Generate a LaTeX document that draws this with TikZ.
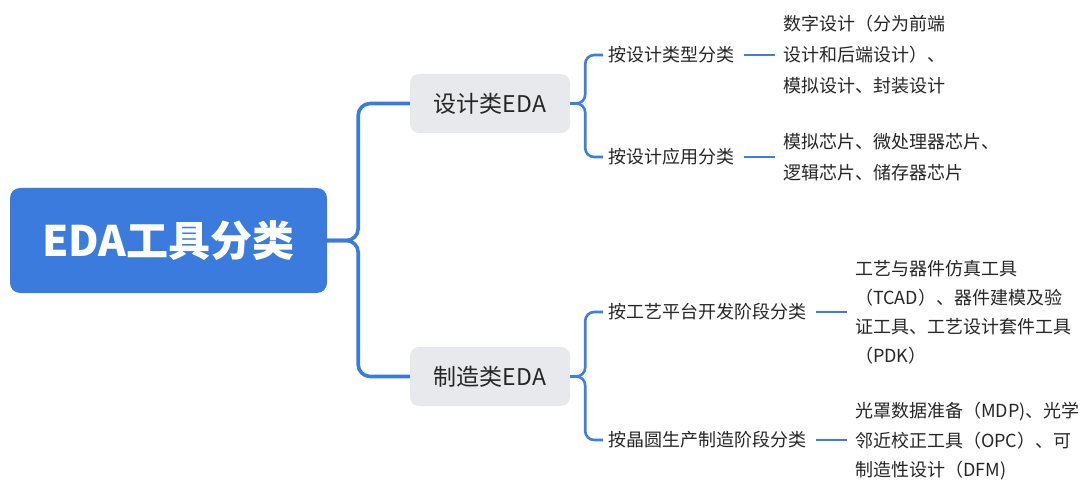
\documentclass[tikz,border=0pt]{standalone}
\usepackage{fontspec}
\setmainfont{Noto Sans CJK SC}
\definecolor{mblue}{HTML}{3A7BDD}
\definecolor{lblue}{HTML}{3D7FE0}
\definecolor{gbox}{HTML}{E7E9EC}
\definecolor{txt}{HTML}{262626}
\tikzset{
  rootbox/.style={fill=mblue, rounded corners=10pt, minimum width=317pt, minimum height=105pt, inner sep=0pt, text=white, font=\fontsize{42}{42}\selectfont\bfseries},
  midbox/.style={fill=gbox, rounded corners=9pt, minimum width=160pt, minimum height=59pt, inner sep=0pt, text=txt, font=\fontsize{23}{23}\selectfont},
  catlabel/.style={anchor=west, inner ysep=2pt, inner xsep=5pt, text=txt, font=\fontsize{18}{18}\selectfont},
  leaf/.style={anchor=west, align=left, inner ysep=0pt, inner xsep=8pt, text=txt},
  conn1/.style={draw=mblue, line width=3.6pt, rounded corners=12pt},
  conn2/.style={draw=lblue, line width=2.6pt, rounded corners=9pt},
  conn3/.style={draw=lblue, line width=2.6pt, shorten <=5pt}
}
\begin{document}
\begin{tikzpicture}[x=1pt,y=-1pt]
\useasboundingbox (0,0) rectangle (1088,484);
\fill[white] (0,0) rectangle (1088,484);

\node[rootbox] (root) at (168.5,240.5) {EDA工具分类};
\node[midbox] (d1) at (490,103.5) {设计类EDA};
\node[midbox] (d2) at (490,376.5) {制造类EDA};

\draw[conn1] (root.east) -- ++(31,0) |- (d1.west);
\draw[conn1] (root.east) -- ++(31,0) |- (d2.west);

\node[catlabel] (t1) at (603,55) {按设计类型分类};
\node[catlabel] (t2) at (603,157) {按设计应用分类};
\node[catlabel] (t3) at (603,312) {按工艺平台开发阶段分类};
\node[catlabel] (t4) at (603,440) {按晶圆生产制造阶段分类};

\draw[conn2] (d1.east) -- ++(15,0) |- (t1.west);
\draw[conn2] (d1.east) -- ++(15,0) |- (t2.west);
\draw[conn2] (d2.east) -- ++(15,0) |- (t3.west);
\draw[conn2] (d2.east) -- ++(15,0) |- (t4.west);

\node[leaf, font=\fontsize{18}{31}\selectfont] (l1) at (775,54.5) {数字设计（分为前端\\设计和后端设计）、\\模拟设计、封装设计};
\node[leaf, font=\fontsize{18}{31}\selectfont] (l2) at (775,157) {模拟芯片、微处理器芯片、\\逻辑芯片、储存器芯片};
\node[leaf, font=\fontsize{18}{29}\selectfont] (l3) at (847,312) {工艺与器件仿真工具\\（TCAD）、器件建模及验\\证工具、工艺设计套件工具\\（PDK）};
\node[leaf, font=\fontsize{18}{29.5}\selectfont] (l4) at (847,441.5) {光罩数据准备（MDP)、光学\\邻近校正工具（OPC）、可\\制造性设计（DFM)};

\draw[conn3] (t1.east) -- (t1.east -| l1.west);
\draw[conn3] (t2.east) -- (t2.east -| l2.west);
\draw[conn3] (t3.east) -- (t3.east -| l3.west);
\draw[conn3] (t4.east) -- (t4.east -| l4.west);
\end{tikzpicture}
\end{document}
